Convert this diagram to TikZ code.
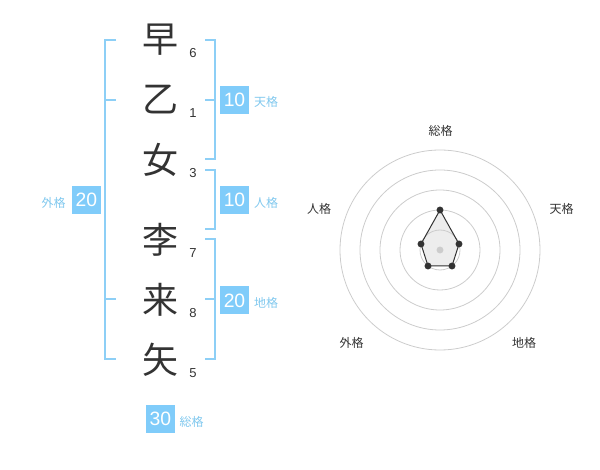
\documentclass[tikz,border=0pt]{standalone}
\usepackage{fontspec}
\setmainfont{Liberation Sans}
\newfontfamily\cjk{Noto Sans CJK JP}
\definecolor{brk}{HTML}{8DCFF6}
\definecolor{boxc}{HTML}{80CCFA}
\definecolor{lbl}{HTML}{80C8EE}
\definecolor{txt}{HTML}{333333}
\definecolor{ring}{HTML}{CCCCCC}
\begin{document}
\begin{tikzpicture}[x=0.75pt,y=-0.75pt,
  kanji/.style={font=\cjk\fontsize{27}{27}\selectfont, text=txt, inner sep=0},
  strokenum/.style={font=\fontsize{9.75}{10}\selectfont, text=txt, inner sep=0},
  scorebox/.style={fill=boxc, text=white, minimum width=21.5pt, minimum height=21pt, inner sep=0, font=\fontsize{14.5}{14.5}\selectfont},
  kaku/.style={font=\cjk\fontsize{9}{9}\selectfont, text=lbl, inner sep=0},
  axislbl/.style={font=\cjk\fontsize{9}{9}\selectfont, text=txt, inner sep=0},
  bracket/.style={draw=brk, line width=1.5pt},
  ringline/.style={draw=ring, line width=0.6pt},
  dot/.style={circle, fill=txt, inner sep=0, minimum size=5.2pt}]
\useasboundingbox (0,0) rectangle (600,470);

% characters
\node[kanji] (c1) at (160,40) {早};
\node[kanji] (c2) at (160,100) {乙};
\node[kanji] (c3) at (160,160) {女};
\node[kanji] (c4) at (160,240) {李};
\node[kanji] (c5) at (160,300) {来};
\node[kanji] (c6) at (160,360) {矢};
% stroke numbers
\node[strokenum] (n1) at (193,53) {6};
\node[strokenum] (n2) at (193,113) {1};
\node[strokenum] (n3) at (193,173) {3};
\node[strokenum] (n4) at (193,253) {7};
\node[strokenum] (n5) at (193,313) {8};
\node[strokenum] (n6) at (193,373) {5};

% brackets
\draw[bracket] (116,40) -- (105,40) -- (105,359) -- (116,359);
\draw[bracket] (105,100) -- (116,100);
\draw[bracket] (105,299) -- (116,299);
\draw[bracket] (205,40) -- (215,40) -- (215,159) -- (205,159);
\draw[bracket] (205,100) -- (215,100);
\draw[bracket] (205,170) -- (215,170) -- (215,229) -- (205,229);
\draw[bracket] (205,239) -- (215,239) -- (215,359) -- (205,359);
\draw[bracket] (205,299) -- (215,299);

% score boxes and labels
\node[scorebox] (gai) at (86.5,200) {20};
\node[kaku] (gail) at (53.5,202.5) {外格};
\node[scorebox] (ten) at (234.5,100) {10};
\node[kaku] (tenl) at (266,102) {天格};
\node[scorebox] (jin) at (234.5,200) {10};
\node[kaku] (jinl) at (266,202.5) {人格};
\node[scorebox] (chi) at (234.5,300.5) {20};
\node[kaku] (chil) at (266,302.5) {地格};
\node[scorebox] (sou) at (160.5,419) {30};
\node[kaku] (soul) at (191.5,421.5) {総格};

% radar chart
\coordinate (rc) at (440,250);
\coordinate (p1) at (440,210);
\coordinate (p2) at (459,244);
\coordinate (p3) at (452,266);
\coordinate (p4) at (428,266);
\coordinate (p5) at (421,244);
\fill[black!7] (p1) -- (p2) -- (p3) -- (p4) -- (p5) -- cycle;
\foreach \r in {20,40,60,80,100} \draw[ringline] (rc) circle[radius=\r*0.75pt];
\fill[ring] (rc) circle[radius=2.6pt];
\draw[txt, line width=0.75pt] (p1) -- (p2) -- (p3) -- (p4) -- (p5) -- cycle;
\foreach \p in {p1,p2,p3,p4,p5} \node[dot] at (\p) {};
\node[axislbl] (a1) at (440.5,130.5) {総格};
\node[axislbl] (a2) at (561.5,208.5) {天格};
\node[axislbl] (a3) at (524,342.5) {地格};
\node[axislbl] (a4) at (351.5,342.5) {外格};
\node[axislbl] (a5) at (319,208.5) {人格};
\end{tikzpicture}
\end{document}
